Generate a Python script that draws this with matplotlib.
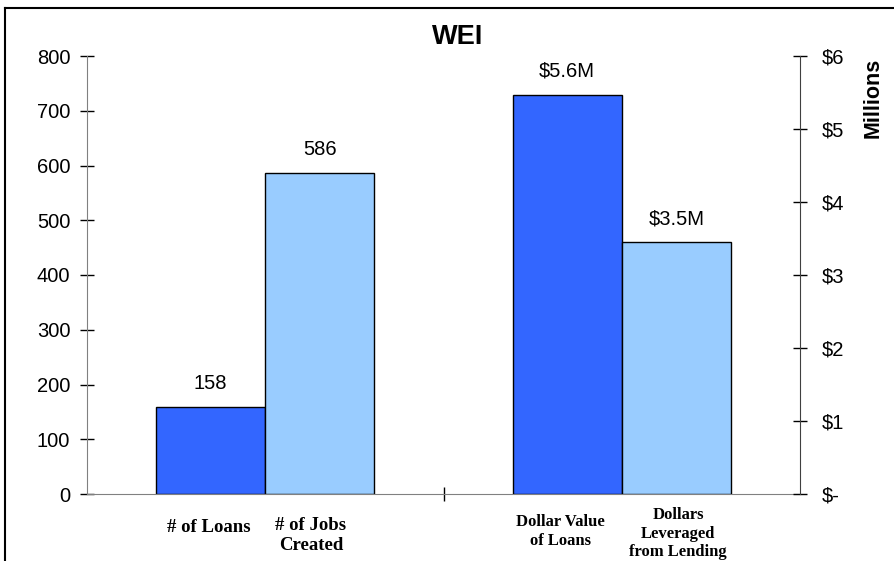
import matplotlib.pyplot as plt
from matplotlib.lines import Line2D

# data
count_labels = ['# of Loans', '# of Jobs\nCreated']
count_values = [158, 586]
dollar_labels = ['Dollar Value\nof Loans', 'Dollars\nLeveraged\nfrom Lending']
dollar_values = [5.47, 3.45]  # millions
dollar_texts = ['$5.6M', '$3.5M']

left_ticks = [0, 100, 200, 300, 400, 500, 600, 700, 800]
right_ticks = [0, 1, 2, 3, 4, 5, 6]
right_ticklabels = ['$-', '$1', '$2', '$3', '$4', '$5', '$6']

dark = '#3366FF'
light = '#99CCFF'
w = 0.306

plt.rcParams['font.family'] = ['Liberation Sans', 'DejaVu Sans']

fig = plt.figure(figsize=(8.94, 5.61), dpi=100)
ax = fig.add_axes([87 / 894, 67 / 561, 713 / 894, 438 / 561])
ax2 = ax.twinx()

# left group: counts
xs = [0 - w / 2, 0 + w / 2]
bars = ax.bar(xs, count_values, width=w, color=[dark, light], edgecolor='black', linewidth=1)
for b, v in zip(bars, count_values):
    ax.annotate(str(v), (b.get_x() + b.get_width() / 2, v), xytext=(0, 17),
                textcoords='offset points', ha='center', va='center', fontsize=14.5)

# right group: dollars
xs2 = [1 - w / 2, 1 + w / 2]
bars2 = ax2.bar(xs2, dollar_values, width=w, color=[dark, light], edgecolor='black', linewidth=1)
for b, v, t in zip(bars2, dollar_values, dollar_texts):
    ax2.annotate(t, (b.get_x() + b.get_width() / 2, v), xytext=(0, 17),
                 textcoords='offset points', ha='center', va='center', fontsize=14.5)

ax.set_xlim(-0.5, 1.5)
ax.set_ylim(0, 800)
ax2.set_ylim(0, 6)

ax.set_yticks(left_ticks)
ax.tick_params(axis='y', direction='inout', length=10, width=1, pad=7, labelsize=14.5)
ax2.set_yticks(right_ticks)
ax2.set_yticklabels(right_ticklabels)
ax2.tick_params(axis='y', direction='inout', length=10, width=1, pad=11, labelsize=14.5)

# category boundary tick only
ax.set_xticks([0.5])
ax.set_xticklabels([''])
ax.tick_params(axis='x', direction='inout', length=10, width=1)

for a in (ax, ax2):
    a.spines['top'].set_visible(False)
    a.set_facecolor('none')
ax2.spines['left'].set_visible(False)
ax2.spines['bottom'].set_visible(False)
ax.spines['right'].set_visible(False)
ax.spines['left'].set_color('#808080')
ax.spines['bottom'].set_color('#808080')
ax2.spines['right'].set_color('#404040')

# category labels under the bars
cat_x = [xs[0] - 0.005, xs[1] - 0.025, xs2[0] - 0.02, xs2[1] + 0.005]
cat_dy = [-24, -30, -27, -28.5]
cat_text = count_labels + dollar_labels
cat_size = [13.5, 13.5, 12, 12]
cat_ls = [1.2, 1.2, 1.2, 1.2]
for x, dy, t, s, ls in zip(cat_x, cat_dy, cat_text, cat_size, cat_ls):
    ax.annotate(t, (x, 0), xycoords=('data', 'axes fraction'), xytext=(0, dy),
                textcoords='offset points', ha='center', va='center',
                fontsize=s, fontweight='bold', family='Liberation Serif', linespacing=ls)

fig.text(458 / 894, 1 - 37 / 561, 'WEI', ha='center', va='center', fontsize=19.5, fontweight='bold')
fig.text(873 / 894, 1 - 98 / 561, 'Millions', ha='center', va='center', rotation=90,
         fontsize=15.5, fontweight='bold')

# chart frame
fig.add_artist(Line2D([5 / 894, 5 / 894], [0, 1 - 8 / 561], color='black', linewidth=1.5))
fig.add_artist(Line2D([5 / 894, 1], [1 - 8 / 561, 1 - 8 / 561], color='black', linewidth=1.5))

fig.savefig('out.png', dpi=100)
